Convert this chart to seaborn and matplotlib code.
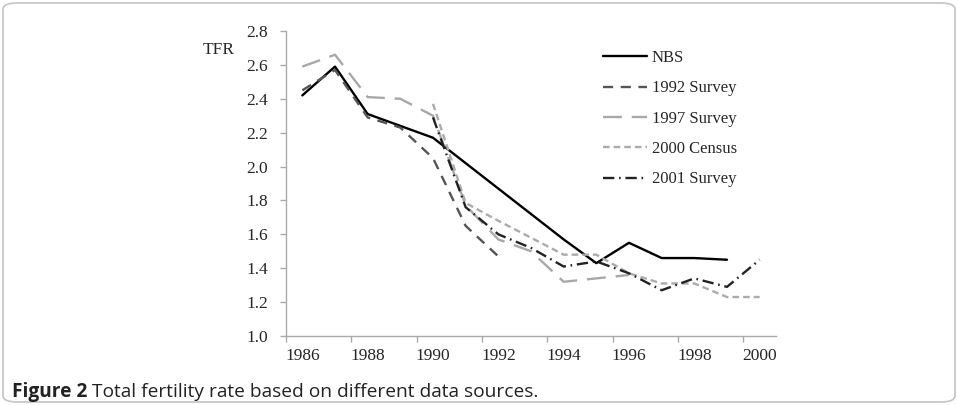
import numpy as np
import pandas as pd
import matplotlib
matplotlib.use("Agg")
import matplotlib.pyplot as plt
import seaborn as sns
from matplotlib.patches import FancyBboxPatch

# ---- data ----
nbs_years = [1986, 1987, 1988, 1989, 1990, 1991, 1992, 1993, 1994, 1995, 1996, 1997, 1998, 1999]
nbs_tfr = [2.42, 2.59, 2.31, 2.24, 2.17, 2.02, 1.87, 1.72, 1.57, 1.43, 1.55, 1.46, 1.46, 1.45]

s1992_years = [1986, 1987, 1988, 1989, 1990, 1991, 1992]
s1992_tfr = [2.45, 2.57, 2.29, 2.23, 2.05, 1.65, 1.47]

s1997_years = [1986, 1987, 1988, 1989, 1990, 1991, 1992, 1993, 1994, 1995, 1996]
s1997_tfr = [2.59, 2.66, 2.41, 2.40, 2.30, 1.77, 1.57, 1.50, 1.32, 1.34, 1.36]

c2000_years = [1990, 1991, 1992, 1993, 1994, 1995, 1996, 1997, 1998, 1999, 2000]
c2000_tfr = [2.37, 1.785, 1.68, 1.58, 1.48, 1.48, 1.37, 1.31, 1.31, 1.23, 1.23]

s2001_years = [1990, 1991, 1992, 1993, 1994, 1995, 1996, 1997, 1998, 1999, 2000]
s2001_tfr = [2.29, 1.76, 1.60, 1.52, 1.41, 1.44, 1.37, 1.27, 1.34, 1.29, 1.45]

series_names = ["NBS", "1992 Survey", "1997 Survey", "2000 Census", "2001 Survey"]
tick_years = [1986, 1988, 1990, 1992, 1994, 1996, 1998, 2000]
y_ticks = [1.0, 1.2, 1.4, 1.6, 1.8, 2.0, 2.2, 2.4, 2.6, 2.8]

frames = []
for name, yrs, vals in zip(series_names,
                           [nbs_years, s1992_years, s1997_years, c2000_years, s2001_years],
                           [nbs_tfr, s1992_tfr, s1997_tfr, c2000_tfr, s2001_tfr]):
    frames.append(pd.DataFrame({"year": yrs, "tfr": vals, "source": name}))
df = pd.concat(frames, ignore_index=True)

# ---- style ----
sns.set_style("white")
plt.rcParams["font.family"] = ["Liberation Serif", "DejaVu Serif"]

W, H = 958, 405
fig = plt.figure(figsize=(W / 100, H / 100), dpi=100)
ax = fig.add_axes([286 / W, 1 - 336 / H, (776 - 286) / W, (336 - 31) / H])

palette = {"NBS": "#000000", "1992 Survey": "#555555", "1997 Survey": "#a8a8a8",
           "2000 Census": "#ababab", "2001 Survey": "#222222"}
dashes = {"NBS": "", "1992 Survey": (4.3, 3.2), "1997 Survey": (8.0, 4.2),
          "2000 Census": (2.8, 1.7), "2001 Survey": (4.8, 2.0, 0.7, 2.0)}

sns.lineplot(data=df, x="year", y="tfr", hue="source", style="source",
             hue_order=series_names, style_order=series_names,
             palette=palette, dashes=dashes, linewidth=1.7, ax=ax,
             sort=False, estimator=None)

TICK_FS = 12.5
ax.set_xlim(1985.5, 2000.5)
ax.set_ylim(1.0, 2.8)
ax.set_yticks(y_ticks)
ax.set_yticklabels([f"{v:.1f}" for v in y_ticks])
ax.set_xticks([y - 0.5 for y in tick_years])
ax.set_xticklabels([])
ax.set_xticks(tick_years, minor=True)
ax.set_xticklabels([str(y) for y in tick_years], minor=True)
ax.tick_params(axis="x", which="major", length=4, width=1, color="#aaaaaa", direction="out",
               bottom=True)
ax.tick_params(axis="x", which="minor", length=0, pad=9, labelsize=TICK_FS)
ax.tick_params(axis="y", which="major", length=4, width=1, color="#aaaaaa", direction="out",
               pad=9, labelsize=TICK_FS, left=True)
for s in ["top", "right"]:
    ax.spines[s].set_visible(False)
for s in ["left", "bottom"]:
    ax.spines[s].set_color("#aaaaaa")
    ax.spines[s].set_linewidth(1)
ax.set_xlabel("")
ax.set_ylabel("")
ax.grid(False)

fig.text(203 / W, 1 - 50 / H, "TFR", fontsize=TICK_FS, va="center", ha="left")

handles, labels = ax.get_legend_handles_labels()
ax.legend(handles, labels, loc="upper left", bbox_to_anchor=(603 / W, 1 - 50 / H),
          bbox_transform=fig.transFigure, frameon=False, fontsize=12,
          handlelength=2.64, handletextpad=0.3, labelspacing=0.86,
          borderpad=0, borderaxespad=0)

# caption
CAP_FS = 13.8
t1 = fig.text(12 / W, 1 - 397 / H, "Figure 2", fontsize=CAP_FS, fontweight="bold",
              family=["Open Sans", "DejaVu Sans"], va="baseline", ha="left", color="#222222")
fig.canvas.draw()
bb = t1.get_window_extent()
fig.text((bb.x1 + 5) / W, 1 - 397 / H, "Total fertility rate based on different data sources.",
         fontsize=CAP_FS, family=["Open Sans", "DejaVu Sans"], va="baseline", ha="left",
         color="#222222")

# rounded border
border = FancyBboxPatch((3 / W, 3 / H), (W - 6) / W, (H - 6) / H,
                        boxstyle="round,pad=0,rounding_size=0.015",
                        transform=fig.transFigure, fill=False, edgecolor="#c4c4c4",
                        linewidth=1.2)
fig.patches.append(border)

fig.savefig("out.png", dpi=100)
